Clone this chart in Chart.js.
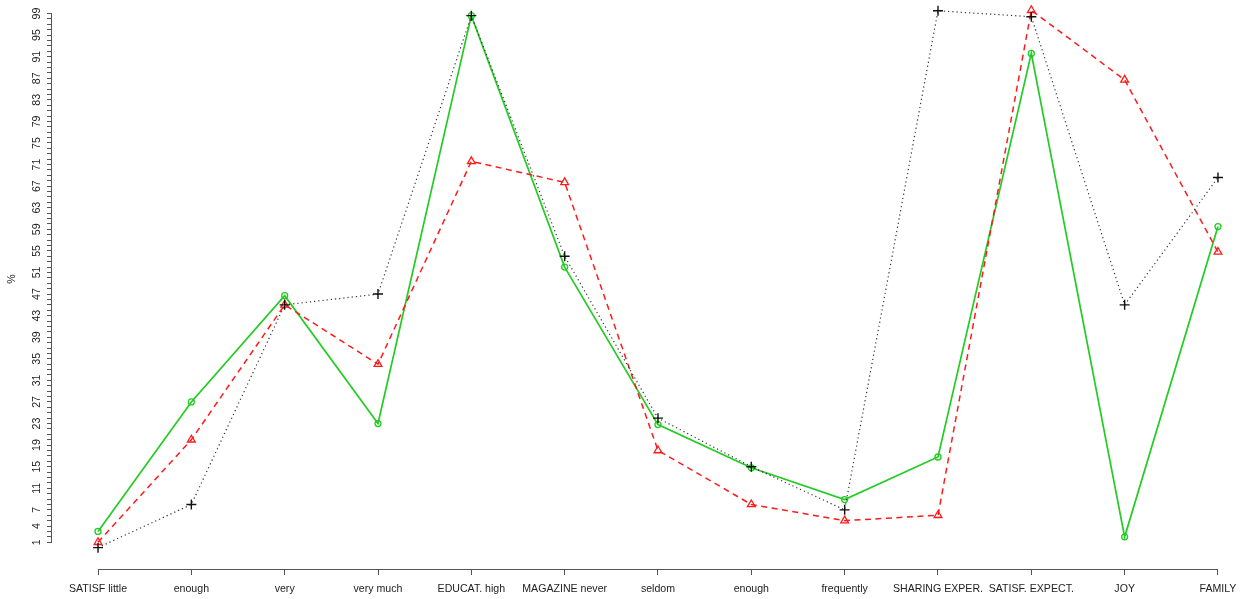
<!DOCTYPE html>
<html>
<head>
<meta charset="utf-8">
<script src="https://cdn.jsdelivr.net/npm/chart.js@4.4.1/dist/chart.umd.min.js"></script>
<style>
  html, body { margin: 0; padding: 0; background: #ffffff; overflow: hidden; }
  /* the plot region starts a little above the visible page */
  canvas { display: block; margin-top: -11px; }
</style>
</head>
<body>
<canvas id="chart" width="1240" height="610"></canvas>
<script>
// Profile categories along the horizontal axis
const categories = ['SATISF little', 'enough', 'very', 'very much', 'EDUCAT. high', 'MAGAZINE never',
  'seldom', 'enough', 'frequently', 'SHARING EXPER.', 'SATISF. EXPECT.', 'JOY', 'FAMILY'];

// Percentages per profile
const seriesBlack = [0, 8, 45, 47, 98.6, 54, 24, 15, 7, 99.5, 98.4, 45, 68.6];
const seriesRed   = [1, 20, 45, 34, 71.6, 67.7, 18, 8, 5, 6, 99.6, 86.7, 54.8];
const seriesGreen = [3, 27, 46.7, 23, 98.6, 52, 22.8, 14.8, 8.9, 16.8, 91.6, 2, 59.5];

// Vertical axis: a tick mark at every whole percent, labels only where they fit
const yTickFirst = 1;
const yTickLast = 99;
const yTickLabels = [1, 4, 7, 11, 15, 19, 23, 27, 31, 35, 39, 43, 47, 51, 55, 59, 63, 67, 71, 75, 79, 83, 87, 91, 95, 99];

const yTickMarks = [];
for (let v = yTickFirst; v <= yTickLast; v++) yTickMarks.push(v);

const FONT = { family: '"Liberation Sans", Arial, Helvetica, sans-serif', size: 10.6 };
const AXIS_COLOR = '#555555';

const toPoints = arr => arr.map((v, i) => ({ x: i + 1, y: v }));

// Axis lines run only between the first and last tick, as in classic base graphics
const axisLines = {
  id: 'axisLines',
  afterDraw(chart) {
    const { ctx, scales: { x, y } } = chart;
    ctx.save();
    ctx.strokeStyle = AXIS_COLOR;
    ctx.lineWidth = 1;
    ctx.beginPath();
    const yb = Math.round(x.top) + 0.5;
    ctx.moveTo(x.getPixelForValue(1), yb);
    ctx.lineTo(x.getPixelForValue(categories.length), yb);
    const xl = Math.round(y.right) - 0.5;
    ctx.moveTo(xl, y.getPixelForValue(yTickFirst));
    ctx.lineTo(xl, y.getPixelForValue(yTickLast));
    ctx.stroke();
    ctx.restore();
  }
};

new Chart(document.getElementById('chart'), {
  type: 'line',
  data: {
    datasets: [
      {
        data: toPoints(seriesBlack),
        borderColor: '#333333',
        borderWidth: 1.2,
        borderDash: [1.2, 3],
        pointStyle: 'cross',
        pointRadius: 5,
        pointBorderWidth: 1.4,
        pointBorderColor: '#111111',
        pointBackgroundColor: 'transparent',
        tension: 0
      },
      {
        data: toPoints(seriesRed),
        borderColor: '#ff1a1a',
        borderWidth: 1.5,
        borderDash: [6, 4.5],
        pointStyle: 'triangle',
        pointRadius: 4.5,
        pointBorderWidth: 1.3,
        pointBorderColor: '#ff1a1a',
        pointBackgroundColor: 'transparent',
        tension: 0
      },
      {
        data: toPoints(seriesGreen),
        borderColor: '#22cc22',
        borderWidth: 1.7,
        pointStyle: 'circle',
        pointRadius: 3,
        pointBorderWidth: 1.3,
        pointBorderColor: '#22cc22',
        pointBackgroundColor: 'transparent',
        tension: 0
      }
    ]
  },
  options: {
    responsive: false,
    animation: false,
    devicePixelRatio: 1,
    layout: { padding: 0, autoPadding: false },
    plugins: { legend: { display: false }, tooltip: { enabled: false } },
    elements: { line: { fill: false } },
    scales: {
      x: {
        type: 'linear',
        min: 0.507,
        max: 13.236,
        afterBuildTicks: s => { s.ticks = categories.map((c, i) => ({ value: i + 1 })); },
        afterFit: s => { s.height = 30; s.paddingLeft = 0; s.paddingRight = 0; },
        border: { display: false },
        grid: { drawOnChartArea: false, drawTicks: true, tickLength: 6, color: AXIS_COLOR, lineWidth: 1 },
        ticks: {
          autoSkip: false,
          minRotation: 0,
          maxRotation: 0,
          padding: 8,
          color: '#222222',
          font: FONT,
          callback: v => categories[Math.round(v) - 1] || ''
        }
      },
      y: {
        type: 'linear',
        min: -3.96,
        max: 103.54,
        afterBuildTicks: s => { s.ticks = yTickMarks.map(v => ({ value: v })); },
        afterFit: s => { s.width = 52; s.paddingTop = 0; s.paddingBottom = 0; },
        border: { display: false },
        grid: { drawOnChartArea: false, drawTicks: true, tickLength: 5, color: AXIS_COLOR, lineWidth: 1 },
        ticks: {
          autoSkip: false,
          minRotation: 90,
          maxRotation: 90,
          crossAlign: 'center',
          padding: 4,
          color: '#222222',
          font: FONT,
          callback: v => yTickLabels.includes(v) ? String(v) : ''
        },
        title: {
          display: true,
          text: '%',
          color: '#222222',
          font: FONT,
          padding: { top: 6, bottom: 0 }
        }
      }
    }
  },
  plugins: [axisLines]
});
</script>
</body>
</html>
